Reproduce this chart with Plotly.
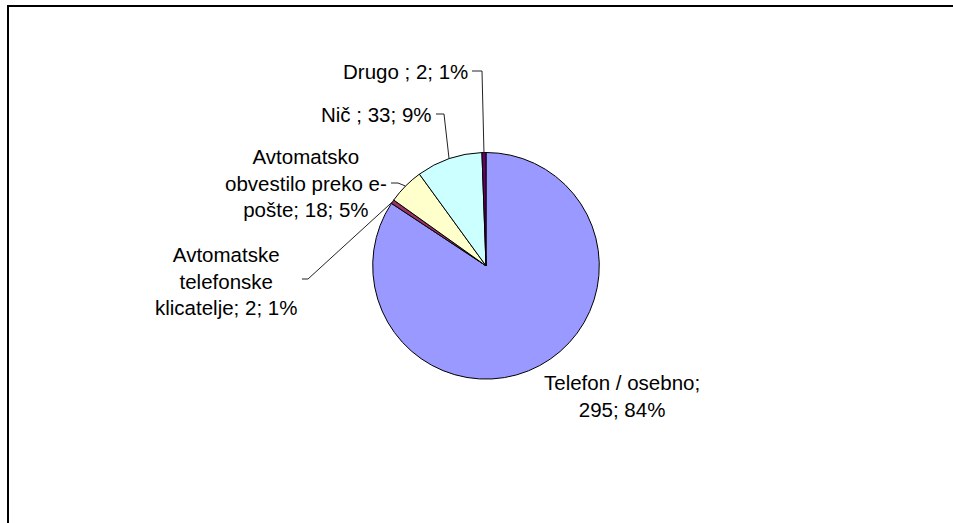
import math
import plotly.graph_objects as go

# Survey answers: how are people notified
labels = [
    "Telefon / osebno",
    "Avtomatske telefonske klicatelje",
    "Avtomatsko obvestilo preko e-pošte",
    "Nič ",
    "Drugo ",
]
values = [295, 2, 18, 33, 2]
percents = [84, 1, 5, 9, 1]
label_lines = [
    ["Telefon / osebno;", "295; 84%"],
    ["Avtomatske", "telefonske", "klicatelje; 2; 1%"],
    ["Avtomatsko", "obvestilo preko e-", "pošte; 18; 5%"],
    ["Nič ; 33; 9%"],
    ["Drugo ; 2; 1%"],
]
colors = ["#9999FF", "#993366", "#FFFFCC", "#CCFFFF", "#660066"]

W, H = 953, 523
CX, CY, R = 486.0, 265.8, 113.3


def px(x):
    return x / W


def py(y):
    return 1 - y / H


fig = go.Figure(
    go.Pie(
        labels=labels,
        values=values,
        sort=False,
        direction="clockwise",
        rotation=0,
        textinfo="none",
        hoverinfo="label+value+percent",
        marker=dict(colors=colors, line=dict(color="black", width=1)),
        domain=dict(x=[px(CX - R), px(CX + R)], y=[py(CY + R), py(CY - R)]),
        showlegend=False,
    )
)

# mid-angle of each slice (clockwise from 12 o'clock)
total = sum(values)
mids = []
acc = 0
for v in values:
    mids.append((acc + v / 2) / total * 2 * math.pi)
    acc += v


def edge_point(a):
    return CX + R * math.sin(a), CY - R * math.cos(a)


# label placement: (anchor x, anchor y, xanchor, elbow points before reaching slice)
placements = [
    (622, 396, "center", None),
    (299, 281, "right", [(302, 279), (308, 279)]),
    (389, 183, "right", [(391, 183), (398, 183)]),
    (434, 114, "right", [(436, 114), (444, 114)]),
    (470, 71, "right", [(472, 71), (482, 71)]),
]

shapes = []
annotations = []
for i, (ax, ay, xa, elbow) in enumerate(placements):
    annotations.append(
        dict(
            x=px(ax), y=py(ay), xref="paper", yref="paper",
            xanchor=xa, yanchor="middle", align="center",
            text="<br>".join(label_lines[i]), showarrow=False,
            font=dict(family="Liberation Sans, Arial, sans-serif", size=20.5, color="black"),
        )
    )
    if elbow:
        ex, ey = edge_point(mids[i])
        pts = elbow + [(ex, ey)]
        path = "M " + " L ".join(f"{px(x)},{py(y)}" for x, y in pts)
        shapes.append(
            dict(type="path", path=path, xref="paper", yref="paper",
                 line=dict(color="#222222", width=1))
        )

# chart area frame (top and left edges)
shapes.append(dict(type="line", xref="paper", yref="paper",
                   x0=px(7), y0=py(6), x1=px(953), y1=py(6),
                   line=dict(color="black", width=2)))
shapes.append(dict(type="line", xref="paper", yref="paper",
                   x0=px(8), y0=py(5), x1=px(8), y1=py(523),
                   line=dict(color="black", width=2)))

fig.update_layout(
    width=W, height=H,
    margin=dict(l=0, r=0, t=0, b=0),
    paper_bgcolor="white", plot_bgcolor="white",
    shapes=shapes, annotations=annotations,
)

fig.write_html("out.html")
